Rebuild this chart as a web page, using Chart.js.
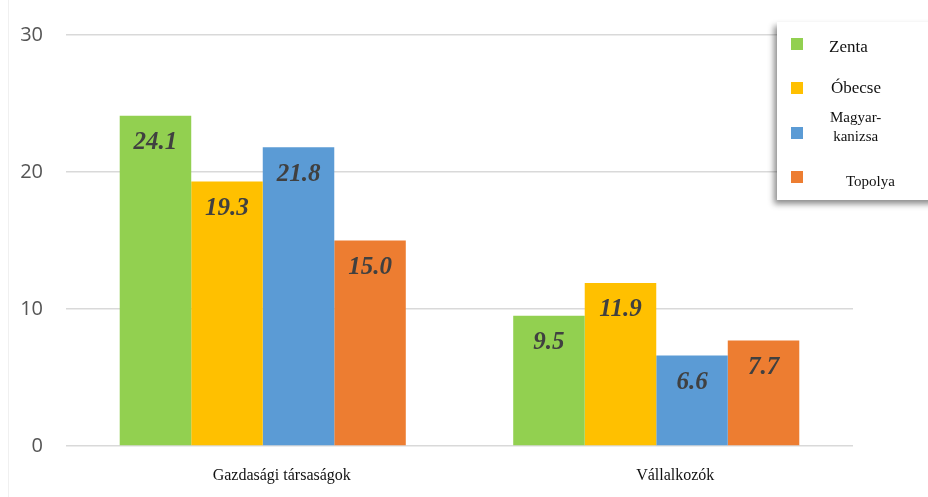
<!DOCTYPE html>
<html>
<head>
<meta charset="utf-8">
<script src="https://cdn.jsdelivr.net/npm/chart.js@4"></script>
<style>
    html, body { margin: 0; padding: 0; background: #fff; }
    .wrap { position: relative; width: 928px; height: 497px; overflow: hidden; }
    .edge { position: absolute; left: 8px; top: 0; bottom: 0; border-left: 1px solid #f0f0f0; }
    canvas { position: absolute; left: 0; top: 0; }
    .legend {
        position: absolute; left: 777px; top: 22px; width: 160px; height: 178px;
        background: #fff; box-shadow: -3px 4px 6px rgba(0, 0, 0, 0.45);
        font-family: 'Liberation Serif', 'Times New Roman', serif; color: #111;
    }
    .legend .box { position: absolute; width: 12px; height: 12px; }
    .legend .txt { position: absolute; white-space: nowrap; text-align: center; line-height: 19px; }
</style>
</head>
<body>
<div class="wrap">
    <div class="edge"></div>
    <canvas id="chart" width="928" height="497"></canvas>
    <div class="legend" id="legend"></div>
</div>
<script>
const categories = ['Gazdasági társaságok', 'Vállalkozók'];
const seriesNames = ['Zenta', 'Óbecse', 'Magyar-\nkanizsa', 'Topolya'];
const zenta = [24.1, 9.5];
const obecse = [19.3, 11.9];
const magyarkanizsa = [21.8, 6.6];
const topolya = [15.0, 7.7];
const yTicks = [0, 10, 20, 30];

const colors = ['#92d050', '#ffc000', '#5b9bd5', '#ed7d31'];
const values = [zenta, obecse, magyarkanizsa, topolya];

// legend layout (box top y, text left x, font size)
const legendPos = [
    { box: 16, text: 52, ty: 15, size: 17 },
    { box: 60, text: 54, ty: 56, size: 17 },
    { box: 105, text: 53, ty: 86, size: 15 },
    { box: 149, text: 69, ty: 150, size: 15 }
];

const $ = s => document.querySelector(s);

const barLabels = {
    id: 'barLabels',
    afterDatasetsDraw(chart) {
        const { ctx } = chart;
        ctx.save();
        ctx.font = 'italic bold 25px "Liberation Serif", serif';
        ctx.fillStyle = '#404040';
        ctx.textAlign = 'center';
        ctx.textBaseline = 'middle';
        chart.data.datasets.forEach((ds, i) => {
            chart.getDatasetMeta(i).data.forEach((bar, j) => {
                ctx.fillText(ds.data[j].toFixed(1), bar.x, bar.y + 27);
            });
        });
        ctx.restore();
    }
};

new Chart($('#chart'), {
    type: 'bar',
    data: {
        labels: categories,
        datasets: seriesNames.map((name, i) => ({
            label: name,
            data: values[i],
            backgroundColor: colors[i],
            borderWidth: 0,
            barPercentage: 1,
            categoryPercentage: 0.727
        }))
    },
    options: {
        responsive: false,
        animation: false,
        devicePixelRatio: 1,
        layout: { padding: { top: 35, right: 75, left: 0, bottom: 0 } },
        plugins: { legend: { display: false }, tooltip: { enabled: false } },
        scales: {
            x: {
                grid: { display: false },
                border: { display: false },
                ticks: {
                    color: '#111',
                    font: { size: 16, family: 'Liberation Serif' },
                    padding: 12,
                    labelOffset: 19
                },
                afterFit: s => { s.height = 51; }
            },
            y: {
                min: 0,
                max: 30,
                afterBuildTicks: s => { s.ticks = yTicks.map(v => ({ value: v })); },
                grid: { color: '#d9d9d9', lineWidth: 1.5, drawTicks: false },
                border: { display: false },
                ticks: {
                    color: '#555',
                    font: { size: 20, family: 'Open Sans' },
                    padding: 23
                },
                afterFit: s => { s.width = 66; }
            }
        }
    },
    plugins: [barLabels]
});

$('#legend').innerHTML = seriesNames.map((name, i) => {
    const p = legendPos[i];
    return `<div class="box" style="left:14px;top:${p.box}px;background:${colors[i]}"></div>
            <div class="txt" style="left:${p.text}px;top:${p.ty}px;font-size:${p.size}px">${name.replace('\n', '<br>')}</div>`;
}).join('');
</script>
</body>
</html>
